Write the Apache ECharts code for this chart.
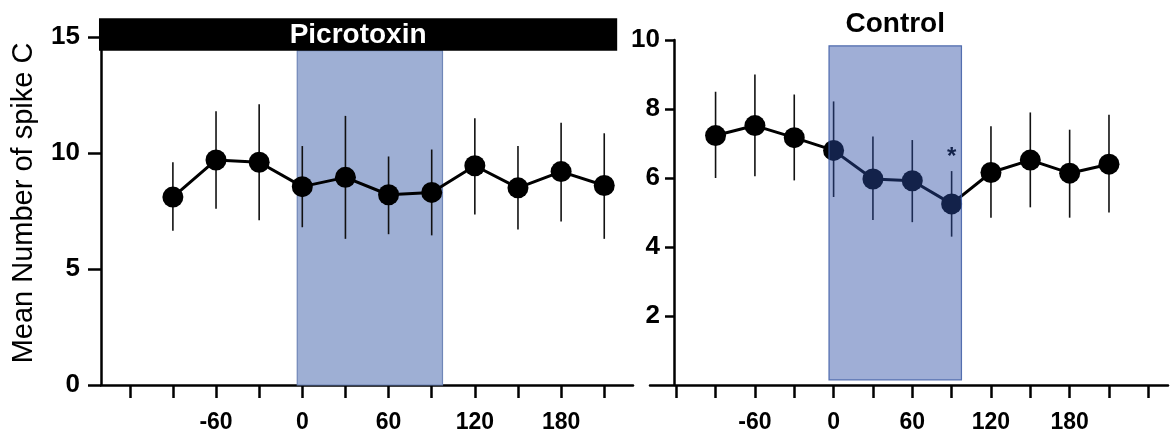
<!DOCTYPE html>
<html>
<head>
<meta charset="utf-8">
<script src="https://cdn.jsdelivr.net/npm/echarts@6/dist/echarts.min.js"></script>
<style>
  html, body { margin: 0; padding: 0; background: #fff; }
  #chart { width: 1172px; height: 434px; }
</style>
</head>
<body>
<div id="chart"></div>
<script>
// time (min) of each sample
const times = [-90, -60, -30, 0, 30, 60, 90, 120, 150, 180, 210]

// Picrotoxin panel: mean and error bar ends
const picroMean = [8.1, 9.7, 9.6, 8.55, 8.95, 8.2, 8.3, 9.45, 8.5, 9.2, 8.6]
const picroLow = [6.65, 7.6, 7.1, 6.8, 6.3, 6.5, 6.45, 7.35, 6.7, 7.05, 6.3]
const picroHigh = [9.6, 11.8, 12.1, 10.3, 11.6, 9.85, 10.15, 11.5, 10.3, 11.3, 10.85]

// Control panel
const controlMean = [7.23, 7.52, 7.17, 6.8, 5.97, 5.92, 5.25, 6.16, 6.52, 6.14, 6.4]
const controlLow = [6.0, 6.05, 5.93, 5.45, 4.78, 4.72, 4.3, 4.85, 5.15, 4.85, 5.0]
const controlHigh = [8.5, 9.0, 8.42, 8.22, 7.2, 7.1, 6.2, 7.5, 7.9, 7.4, 7.83]
const controlSig = ['', '', '', '', '', '', '*', '', '', '', '']

// axes
const xTicksLeft = [-120, -90, -60, -30, 0, 30, 60, 90, 120, 150, 180, 210]
const xTicksRight = [-120, -90, -60, -30, 0, 30, 60, 90, 120, 150, 180, 210, 240]
const xLabels = [-60, 0, 60, 120, 180]
const picroYTicks = [0, 5, 10, 15]
const controlYTicks = [2, 4, 6, 8, 10]

// drug application period (shaded)
const shadeFrom = -3.5
const shadeTo = 97.5

const FONT = 'Liberation Sans, Arial, Helvetica, sans-serif'

const chart = echarts.init(document.getElementById('chart'))

function makeXAxis(gridIndex, ticks, max) {
  return {
    type: 'value',
    gridIndex: gridIndex,
    min: -140,
    max: max,
    splitLine: { show: false },
    axisLine: { onZero: false, lineStyle: { color: '#000', width: 2.5 } },
    axisTick: { customValues: ticks, length: 13, lineStyle: { color: '#000', width: 2.5 } },
    axisLabel: {
      customValues: xLabels,
      margin: 26,
      color: '#000',
      fontFamily: FONT,
      fontWeight: 'bold',
      fontSize: 23,
    },
  }
}

function makeYAxis(gridIndex, max, ticks, labels, tickLen, margin, offset) {
  return {
    type: 'value',
    gridIndex: gridIndex,
    min: 0,
    max: max,
    offset: offset,
    splitLine: { show: false },
    axisLine: { show: true, onZero: false, lineStyle: { color: '#000', width: 2.5 } },
    axisTick: { show: true, customValues: ticks, length: tickLen, lineStyle: { color: '#000', width: 2.5 } },
    axisLabel: {
      customValues: labels,
      margin: margin,
      color: '#000',
      fontFamily: FONT,
      fontWeight: 'bold',
      fontSize: 26,
    },
  }
}

function errorBars(marks) {
  return function (params, api) {
    const x = api.value(0)
    const lo = api.coord([x, api.value(1)])
    const hi = api.coord([x, api.value(2)])
    const children = [
      {
        type: 'line',
        shape: { x1: lo[0], y1: lo[1], x2: hi[0], y2: hi[1] },
        style: { stroke: '#111', lineWidth: 1.6 },
      },
    ]
    const m = marks && marks[params.dataIndex]
    if (m) {
      children.push({
        type: 'text',
        style: {
          text: m,
          x: hi[0],
          y: hi[1] - 2,
          align: 'center',
          verticalAlign: 'bottom',
          fill: '#000',
          font: 'bold 24px ' + FONT,
        },
      })
    }
    return { type: 'group', children: children }
  }
}

function lineSeries(idx, means, markArea) {
  return {
    type: 'line',
    xAxisIndex: idx,
    yAxisIndex: idx,
    data: times.map((t, i) => [t, means[i]]),
    symbol: 'circle',
    symbolSize: 21,
    itemStyle: { color: '#000' },
    lineStyle: { color: '#000', width: 3 },
    silent: true,
    z: 3,
    markArea: markArea,
  }
}

const option = {
  backgroundColor: '#fff',
  animation: false,
  grid: [
    { left: 101, top: 37, width: 532, height: 353 },
    { left: 650, top: 40, right: 4, bottom: 44 },
  ],
  xAxis: [makeXAxis(0, xTicksLeft, 230), makeXAxis(1, xTicksRight, 255)],
  yAxis: [
    makeYAxis(0, 15, picroYTicks, picroYTicks, 13, 21, 0),
    makeYAxis(1, 10, controlYTicks, controlYTicks, 9, 14, -24),
  ],
  series: [
    {
      type: 'custom',
      xAxisIndex: 0,
      yAxisIndex: 0,
      z: 2,
      silent: true,
      renderItem: errorBars(null),
      encode: { x: 0, y: [1, 2] },
      data: times.map((t, i) => [t, picroLow[i], picroHigh[i]]),
    },
    lineSeries(0, picroMean, {
      silent: true,
      z: 1,
      itemStyle: { color: '#9eafd4', borderColor: '#6f86b8', borderWidth: 1.2 },
      data: [[{ coord: [shadeFrom, 0] }, { coord: [shadeTo, 14.41] }]],
    }),
    {
      type: 'custom',
      xAxisIndex: 1,
      yAxisIndex: 1,
      z: 2,
      silent: true,
      renderItem: errorBars(controlSig),
      encode: { x: 0, y: [1, 2] },
      data: times.map((t, i) => [t, controlLow[i], controlHigh[i]]),
    },
    lineSeries(1, controlMean, {
      silent: true,
      z: 5,
      itemStyle: { color: 'rgba(42,75,164,0.45)', borderColor: 'rgba(60,90,165,0.85)', borderWidth: 1.2 },
      data: [[{ coord: [shadeFrom, 0.15] }, { coord: [shadeTo, 9.83] }]],
    }),
  ],
}

chart.setOption(option)

// black bar with the drug name over the left panel, and the right panel title
const barA = chart.convertToPixel({ gridIndex: 0 }, [-141.4, 15.81])
const barB = chart.convertToPixel({ gridIndex: 0 }, [219, 14.41])
const ctrlMid = chart.convertToPixel({ gridIndex: 1 }, [(shadeFrom + shadeTo) / 2, 10])

chart.setOption({
  graphic: [
    {
      type: 'rect',
      z: 10,
      shape: { x: barA[0], y: barA[1], width: barB[0] - barA[0], height: barB[1] - barA[1] },
      style: { fill: '#000' },
    },
    {
      type: 'text',
      z: 11,
      x: (barA[0] + barB[0]) / 2,
      y: (barA[1] + barB[1]) / 2 + 1,
      style: {
        text: 'Picrotoxin',
        fill: '#fff',
        font: 'bold 28px ' + FONT,
        align: 'center',
        verticalAlign: 'middle',
      },
    },
    {
      type: 'text',
      z: 11,
      x: ctrlMid[0],
      y: 24,
      style: {
        text: 'Control',
        fill: '#000',
        font: 'bold 28px ' + FONT,
        align: 'center',
        verticalAlign: 'middle',
      },
    },
    {
      type: 'text',
      z: 11,
      x: 24,
      y: 203,
      rotation: Math.PI / 2,
      style: {
        text: 'Mean Number of spike C',
        fill: '#000',
        font: '29px ' + FONT,
        align: 'center',
        verticalAlign: 'middle',
      },
    },
  ],
})
</script>
</body>
</html>
